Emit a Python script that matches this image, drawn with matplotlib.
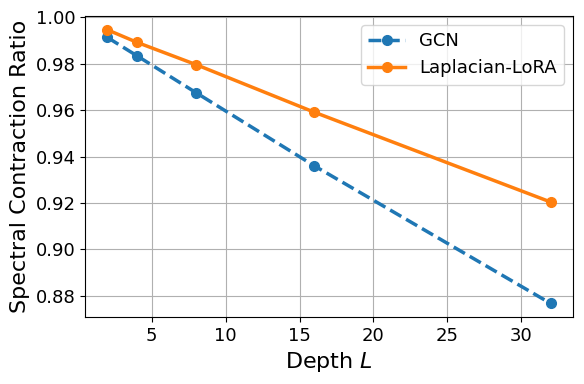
import matplotlib
matplotlib.use("Agg")
import matplotlib.pyplot as plt

depths = [2, 4, 8, 16, 32]
gcn = [0.9913, 0.9834, 0.9675, 0.9360, 0.8767]
lora = [0.9946, 0.9892, 0.9796, 0.9591, 0.9204]

fig, ax = plt.subplots(figsize=(5.84, 3.84), dpi=100)
ax.plot(depths, gcn, "o--", color="#1f77b4", lw=2.5, ms=7, label="GCN")
ax.plot(depths, lora, "o-", color="#ff7f0e", lw=2.5, ms=7, label="Laplacian-LoRA")
ax.set_xlabel("Depth $L$", fontsize=16)
ax.set_ylabel("Spectral Contraction Ratio", fontsize=16)
ax.tick_params(labelsize=13)
ax.grid(True)
ax.legend(fontsize=13)
fig.subplots_adjust(left=0.146, right=0.981, top=0.958, bottom=0.174)
fig.savefig("out.png", dpi=100)
